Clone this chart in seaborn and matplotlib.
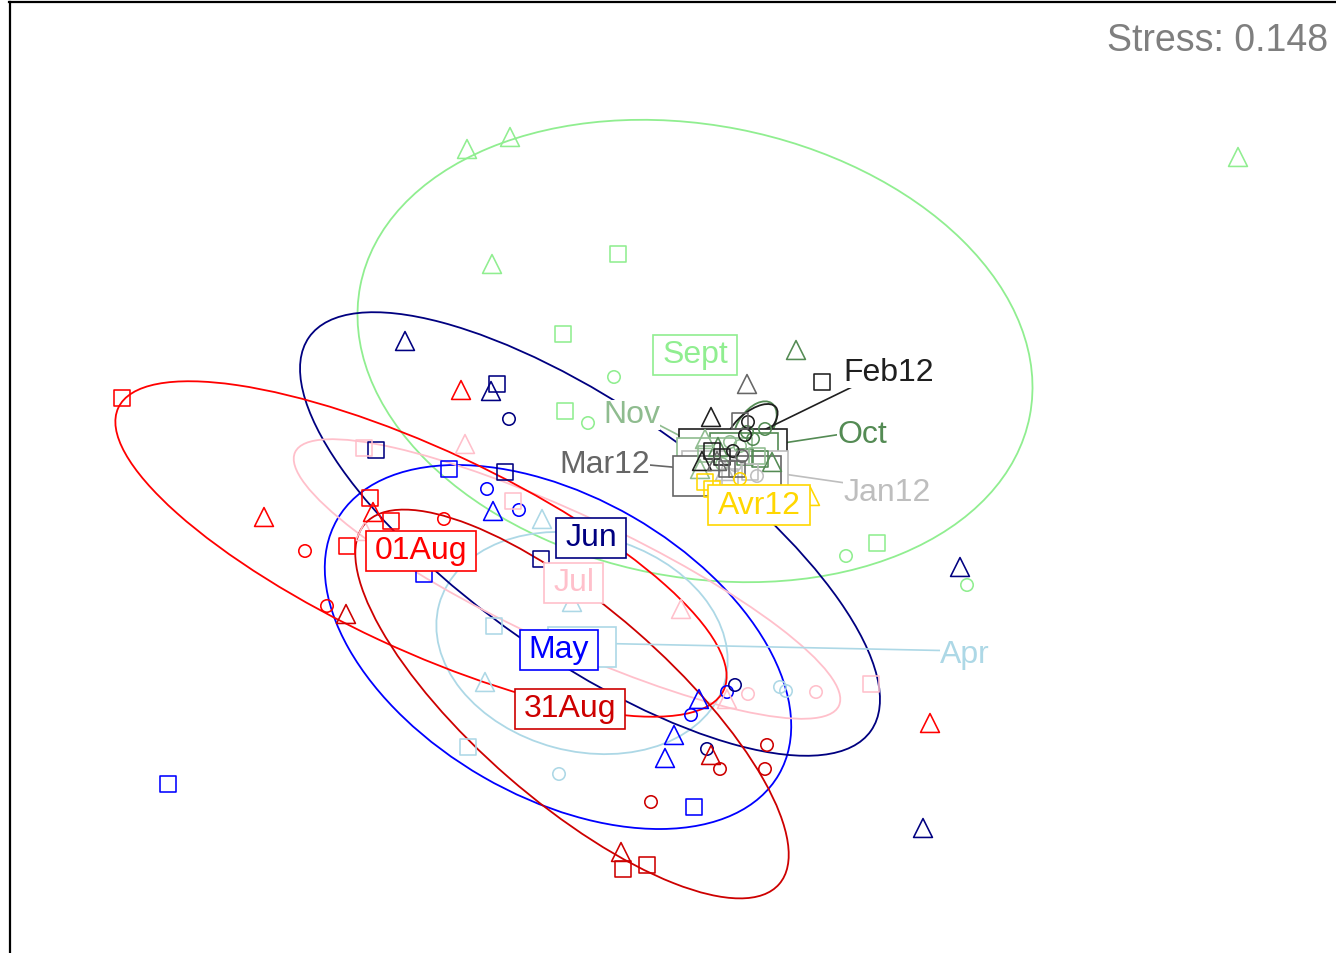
import numpy as np
import pandas as pd
import matplotlib
matplotlib.use("Agg")
import matplotlib.pyplot as plt
import seaborn as sns
from matplotlib.patches import Ellipse, Rectangle

sns.set_theme(style="white")
plt.rcParams['font.family'] = ['Liberation Sans', 'DejaVu Sans']

# ---------------- data (NMDS scores, y axis reversed) ----
groups = ["Sept", "Oct", "Nov", "Jan12", "Feb12", "Mar12", "Avr12",
          "Apr", "May", "Jun", "Jul", "01Aug", "31Aug"]
colors = ["#90EE90", "#548B54", "#8FBC8F", "#BEBEBE", "#1F1F1F", "#666666", "#FFD700",
          "#ADD8E6", "#0000FF", "#000080", "#FFC0CB", "#FF0000", "#CD0000"]

# site codes: A = square, B = circle, C = triangle
sept_x = [467, 510, 492, 1238, 618, 563, 565, 877, 614, 588, 846, 967]
sept_y = [150, 138, 265, 158, 255, 335, 412, 544, 378, 424, 557, 586]
sept_s = ["C", "C", "C", "C", "A", "A", "A", "A", "B", "B", "B", "B"]

oct_x = [796, 772, 718, 753, 747, 765, 760, 745]
oct_y = [351, 463, 448, 440, 433, 430, 460, 458]
oct_s = ["C", "C", "C", "B", "B", "B", "A", "A"]

nov_x = [705, 700, 730, 740, 722, 757, 706]
nov_y = [440, 470, 443, 447, 465, 457, 455]
nov_s = ["C", "C", "B", "B", "B", "A", "A"]

jan_x = [750, 730, 757, 735, 725]
jan_y = [473, 478, 477, 466, 472]
jan_s = ["A", "A", "B", "B", "C"]

feb_x = [822, 712, 722, 711, 702, 748, 745, 733]
feb_y = [383, 452, 458, 418, 462, 423, 436, 452]
feb_s = ["A", "A", "A", "C", "C", "B", "B", "B"]

mar_x = [747, 717, 740, 737, 727, 742]
mar_y = [385, 462, 422, 470, 470, 457]
mar_s = ["C", "C", "A", "A", "A", "B"]

avr_x = [705, 712, 810, 740]
avr_y = [483, 490, 497, 480]
avr_s = ["A", "A", "C", "B"]

apr_x = [542, 572, 485, 494, 468, 559, 780, 786]
apr_y = [520, 603, 683, 627, 748, 775, 688, 692]
apr_s = ["C", "C", "C", "A", "A", "B", "B", "B"]

may_x = [493, 699, 674, 665, 449, 424, 168, 694, 487, 519, 691, 727]
may_y = [512, 700, 736, 759, 470, 575, 785, 808, 490, 511, 716, 693]
may_s = ["C", "C", "C", "C", "A", "A", "A", "A", "B", "B", "B", "B"]

jun_x = [405, 491, 960, 923, 497, 376, 505, 541, 509, 735, 707]
jun_y = [342, 392, 568, 829, 385, 451, 473, 560, 420, 686, 750]
jun_s = ["C", "C", "C", "C", "A", "A", "A", "A", "B", "B", "B"]

jul_x = [465, 365, 681, 727, 364, 513, 871, 748, 816]
jul_y = [445, 532, 610, 700, 449, 502, 685, 695, 693]
jul_s = ["C", "C", "C", "C", "A", "A", "A", "B", "B"]

aug1_x = [461, 264, 373, 930, 122, 370, 347, 391, 305, 444, 327]
aug1_y = [391, 518, 513, 724, 399, 499, 547, 522, 552, 520, 607]
aug1_s = ["C", "C", "C", "C", "A", "A", "A", "A", "B", "B", "B"]

aug31_x = [621, 711, 346, 623, 647, 651, 720, 767, 765]
aug31_y = [853, 756, 615, 870, 866, 803, 770, 746, 770]
aug31_s = ["C", "C", "C", "A", "A", "B", "B", "B", "B"]

# dispersion ellipses: centre, full axes lengths, angle
ell_group = ["Sept", "Apr", "May", "Jun", "Jul", "01Aug", "31Aug", "Oct", "Feb12"]
ell_cx = [695, 582, 558, 590, 567, 421, 572, 755, 752]
ell_cy = [352, 644, 648, 535, 580, 550, 705, 428, 428]
ell_w = [682, 296, 510, 686, 600, 668, 549, 58, 62]
ell_h = [452, 216, 300, 250, 130, 200, 194, 34, 30]
ell_ang = [11, 15, 30, 35, 25, 25, 41, -55, -40]

# group centroids (label anchors)
cent_x = [695, 744, 715, 735, 733, 727, 759, 582, 559, 591, 574, 421, 570]
cent_y = [352, 450, 455, 468, 446, 473, 502, 644, 647, 535, 580, 548, 706]
boxed_labels = ["Sept", "Jun", "Jul", "May", "01Aug", "31Aug", "Avr12"]
moved_labels = ["Feb12", "Oct", "Nov", "Jan12", "Mar12", "Apr"]
moved_tx = [889, 862, 632, 887, 605, 965]
moved_ty = [370, 432, 412, 490, 462, 652]

stress = 0.148

# ---------------- build table ----------------
series = {
    "Sept": (sept_x, sept_y, sept_s), "Oct": (oct_x, oct_y, oct_s),
    "Nov": (nov_x, nov_y, nov_s), "Jan12": (jan_x, jan_y, jan_s),
    "Feb12": (feb_x, feb_y, feb_s), "Mar12": (mar_x, mar_y, mar_s),
    "Avr12": (avr_x, avr_y, avr_s), "Apr": (apr_x, apr_y, apr_s),
    "May": (may_x, may_y, may_s), "Jun": (jun_x, jun_y, jun_s),
    "Jul": (jul_x, jul_y, jul_s), "01Aug": (aug1_x, aug1_y, aug1_s),
    "31Aug": (aug31_x, aug31_y, aug31_s),
}
rows = []
for g, (xs, ys, ss) in series.items():
    for x, y, s in zip(xs, ys, ss):
        rows.append((g, x, y, s))
df = pd.DataFrame(rows, columns=["group", "NMDS1", "NMDS2", "site"])
pal = dict(zip(groups, colors))

# ---------------- figure ----------------
W, H = 1336, 954
fig = plt.figure(figsize=(W / 100, H / 100), dpi=100)
left_px, top_px = 9.5, 2.5
ax = fig.add_axes([left_px / W, -0.1, 1.2, (H - top_px) / H + 0.1])
ax.set_facecolor("white")
for side in ["left", "top"]:
    ax.spines[side].set_visible(True)
    ax.spines[side].set_color("black")
    ax.spines[side].set_linewidth(1.6)

# ellipses
for g, cx, cy, w, h, a in zip(ell_group, ell_cx, ell_cy, ell_w, ell_h, ell_ang):
    ax.add_patch(Ellipse((cx, cy), w, h, angle=a, fill=False,
                         edgecolor=pal[g], linewidth=1.3, zorder=1))

# points
sns.scatterplot(data=df, x="NMDS1", y="NMDS2", hue="group", palette=pal,
                style="site", markers={"A": "s", "B": "o", "C": "^"},
                size="site", sizes={"A": 125, "B": 80, "C": 185},
                legend=False, ax=ax, linewidth=1.15, zorder=3)
for coll in ax.collections:
    fc = coll.get_facecolors()
    coll.set_edgecolors(fc)
    coll.set_facecolors("none")
    coll.set_zorder(3)

ax.set_xlim(left_px, left_px + 1.2 * W)
ax.set_ylim(H * 1.1, top_px)
ax.set_xticks([])
ax.set_yticks([])
ax.set_xlabel("")
ax.set_ylabel("")

cent = {g: (x, y) for g, x, y in zip(groups, cent_x, cent_y)}
FS = 23
PADX, PADY = 9, 5
VA = "center_baseline"

fig.canvas.draw()
renderer = fig.canvas.get_renderer()
inv = ax.transData.inverted()


def rect_around(t, color, z):
    bb = t.get_window_extent(renderer)
    x0, y0 = inv.transform((bb.x0 - PADX, bb.y0 - PADY))
    x1, y1 = inv.transform((bb.x1 + PADX, bb.y1 + PADY))
    r = Rectangle((min(x0, x1), min(y0, y1)), abs(x1 - x0), abs(y1 - y0),
                  facecolor="white", edgecolor=color, linewidth=1.2, zorder=z)
    ax.add_patch(r)


# moved labels: empty box at centroid, leader line, text elsewhere
for i, (g, tx, ty) in enumerate(zip(moved_labels, moved_tx, moved_ty)):
    cx, cy = cent[g]
    c = pal[g]
    ghost = ax.text(cx, cy, g, fontsize=FS, ha="center", va=VA)
    rect_around(ghost, c, 2 + i * 0.01)
    ghost.remove()
    ax.plot([cx, tx], [cy, ty], color=c, linewidth=1.2, zorder=1.5)
    ax.text(tx, ty, g, fontsize=FS, ha="center", va=VA, color=c, zorder=5,
            bbox=dict(boxstyle="square,pad=0", facecolor="white", edgecolor="none"))

# boxed labels at centroids
for i, g in enumerate(boxed_labels):
    cx, cy = cent[g]
    c = pal[g]
    t = ax.text(cx, cy, g, fontsize=FS, ha="center", va=VA, color=c,
                zorder=6 + i * 0.01 + 0.005)
    rect_around(t, c, 6 + i * 0.01)

ax.text(1328, 37, f"Stress: {stress}", fontsize=27, ha="right", va=VA,
        color="#7F7F7F", zorder=7)

fig.savefig("out.png", dpi=100)
